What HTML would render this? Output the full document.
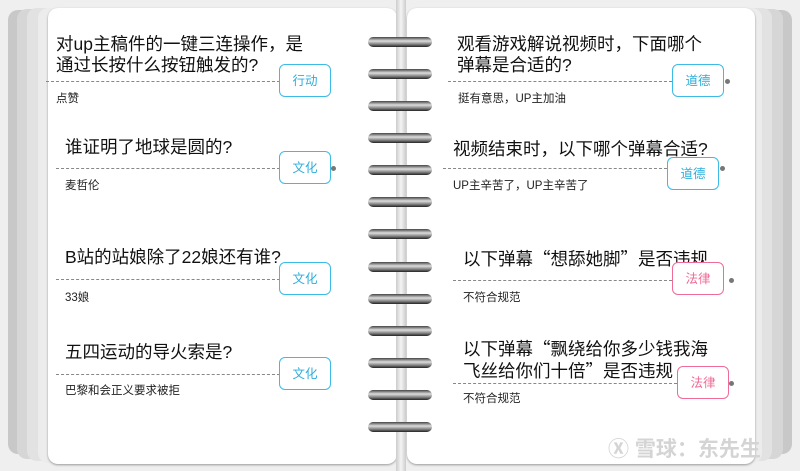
<!DOCTYPE html>
<html><head><meta charset="utf-8"><style>
body{margin:0;width:800px;height:471px;background:#efefef;overflow:hidden;position:relative;font-family:"Liberation Sans","Noto Sans CJK SC",sans-serif;}
.a{position:absolute}
.pg{position:absolute;background:#fff;border-radius:10px;}
.q{position:absolute;font-size:17.5px;color:#111;line-height:21px;white-space:nowrap}
.c{font-family:"Noto Sans CJK SC",sans-serif}
.s{position:absolute;font-size:11.5px;color:#222;white-space:nowrap}
.d{position:absolute;border-top:1px dashed #888;height:0}
.b{position:absolute;width:52px;height:33px;border:1.5px solid #3bbbe6;border-radius:6px;background:#fff;color:#2aaedc;font-size:12.5px;text-align:center;line-height:33px;box-sizing:border-box}
.p{border-color:#f06b96;color:#f06b96}
.dot{position:absolute;width:5px;height:5px;border-radius:50%;background:#777}
.ring{position:absolute;left:368px;width:64px;height:10px;border-radius:5px;background:linear-gradient(#444,#ddd 40%,#888 70%,#222);}
</style></head><body>
<div class="pg" style="left:8px;top:10px;width:380px;height:444px;background:#c8c8c8"></div>
<div class="pg" style="left:17px;top:9px;width:376px;height:450px;background:#d6d6d6"></div>
<div class="pg" style="left:27px;top:8px;width:370px;height:453px;background:#e2e2e2"></div>
<div class="pg" style="left:38px;top:8px;width:360px;height:455px;background:#ececec"></div>
<div class="pg" style="left:48px;top:8px;width:349px;height:456px;box-shadow:0 1px 2px #999"></div>
<div class="pg" style="left:420px;top:10px;width:372px;height:444px;background:#c8c8c8"></div>
<div class="pg" style="left:415px;top:9px;width:368px;height:450px;background:#d6d6d6"></div>
<div class="pg" style="left:410px;top:8px;width:362px;height:453px;background:#e2e2e2"></div>
<div class="pg" style="left:407px;top:8px;width:355px;height:455px;background:#ececec"></div>
<div class="pg" style="left:407px;top:8px;width:348px;height:456px;box-shadow:0 1px 2px #999"></div>
<div class="a" style="left:396px;top:0;width:10px;height:471px;background:linear-gradient(90deg,#ccc,#f4f4f4,#ccc)"></div>
<div class="ring" style="top:37px"></div><div class="ring" style="top:69px"></div><div class="ring" style="top:101px"></div><div class="ring" style="top:133px"></div><div class="ring" style="top:165px"></div><div class="ring" style="top:197px"></div><div class="ring" style="top:229px"></div><div class="ring" style="top:262px"></div><div class="ring" style="top:294px"></div><div class="ring" style="top:326px"></div><div class="ring" style="top:358px"></div><div class="ring" style="top:390px"></div><div class="ring" style="top:422px"></div>

<div class="q" style="left:56px;top:34px">对up主稿件的一键三连操作，是<br>通过长按什么按钮触发的?</div>
<div class="d" style="left:46px;top:81px;width:234px"></div>
<div class="b" style="left:279px;top:64px">行动</div>
<div class="s" style="left:56px;top:90px">点赞</div>

<div class="q" style="left:65px;top:137px">谁证明了地球是圆的?</div>
<div class="d" style="left:56px;top:168px;width:224px"></div>
<div class="dot" style="left:331px;top:166px"></div>
<div class="b" style="left:279px;top:151px">文化</div>
<div class="s" style="left:65px;top:177px">麦哲伦</div>

<div class="q" style="left:65px;top:247px">B站的站娘除了22娘还有谁?</div>
<div class="d" style="left:56px;top:279px;width:224px"></div>
<div class="b" style="left:279px;top:262px">文化</div>
<div class="s" style="left:65px;top:289px">33娘</div>

<div class="q" style="left:65px;top:342px">五四运动的导火索是?</div>
<div class="d" style="left:56px;top:374px;width:224px"></div>
<div class="b" style="left:279px;top:357px">文化</div>
<div class="s" style="left:65px;top:382px">巴黎和会正义要求被拒</div>

<div class="q" style="left:457px;top:34px">观看游戏解说视频时，下面哪个<br>弹幕是合适的?</div>
<div class="d" style="left:448px;top:81px;width:224px"></div>
<div class="dot" style="left:725px;top:79px"></div>
<div class="b" style="left:672px;top:64px">道德</div>
<div class="s" style="left:458px;top:90px">挺有意思，UP主加油</div>

<div class="q" style="left:453px;top:139px">视频结束时，以下哪个弹幕合适?</div>
<div class="d" style="left:443px;top:168px;width:224px"></div>
<div class="dot" style="left:720px;top:166px"></div>
<div class="b" style="left:667px;top:157px">道德</div>
<div class="s" style="left:453px;top:177px">UP主辛苦了，UP主辛苦了</div>

<div class="q" style="left:463px;top:248px">以下弹幕<span class="c">“</span>想舔她脚<span class="c">”</span>是否违规</div>
<div class="d" style="left:453px;top:280px;width:219px"></div>
<div class="dot" style="left:729px;top:278px"></div>
<div class="b p" style="left:672px;top:262px">法律</div>
<div class="s" style="left:463px;top:289px">不符合规范</div>

<div class="q" style="left:463px;top:338px">以下弹幕<span class="c">“</span>飘绕给你多少钱我海<br>飞丝给你们十倍<span class="c">”</span>是否违规</div>
<div class="d" style="left:453px;top:383px;width:224px"></div>
<div class="dot" style="left:729px;top:381px"></div>
<div class="b p" style="left:677px;top:366px">法律</div>
<div class="s" style="left:463px;top:390px">不符合规范</div>

<div class="a" style="left:608px;top:433px;font-size:21px;color:#d4d4d4;white-space:nowrap;font-weight:bold">Ⓧ 雪球：东先生</div>
</body></html>
